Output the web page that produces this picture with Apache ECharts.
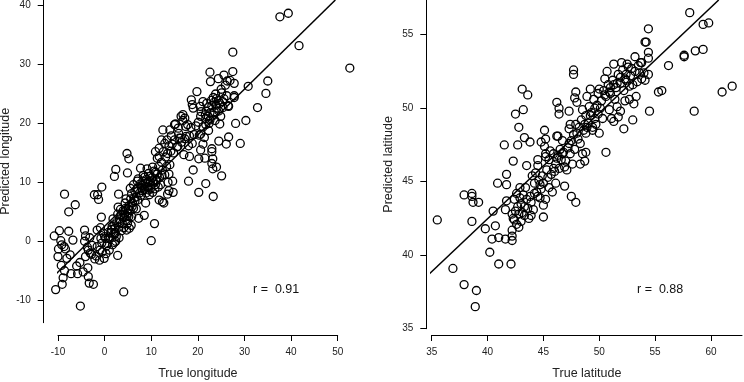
<!DOCTYPE html>
<html>
<head>
<meta charset="utf-8">
<script src="https://cdn.jsdelivr.net/npm/echarts@6/dist/echarts.min.js"></script>
<style>
  html, body { margin: 0; padding: 0; background: #fff; }
  #main { width: 744px; height: 382px; }
</style>
</head>
<body>
<div id="main"></div>
<script>
// true vs predicted longitude, [true, predicted]
const lonPoints = [
  [37.6,38.1],[39.4,38.7],[41.7,33.2],[52.6,29.4],[27.5,32.1],[30.8,26.3],[35.0,27.2],[34.6,25.1],
  [32.8,22.7],[30.3,20.5],[29.1,16.6],[28.1,20.0],[26.6,17.7],[26.1,16.5],[25.1,11.1],[24.0,12.6],
  [23.2,12.3],[24.5,17.0],[23.3,7.6],[21.7,9.8],[20.2,8.3],[18.0,10.2],[19.0,12.1],[10.0,0.1],
  [10.7,3.0],[4.1,-8.6],[-5.2,-11.0],[-10.5,-8.2],[-9.1,-7.3],[-8.9,-6.2],[-8.6,8.0],[-7.7,5.0],
  [-6.3,6.2],[-10.8,0.9],[-9.7,1.8],[-7.7,1.7],[-6.8,0.2],[-10.0,-2.6],[-9.3,-4.1],[-8.6,-5.0],
  [-7.4,-2.3],[-7.2,-5.5],[-8.1,-2.9],[-9.9,-1.3],[-9.4,0.1],[-9.2,-0.6],[-8.7,-0.9],[-8.4,-1.3],
  [-6.0,-4.2],[-5.8,-5.5],[-3.6,-4.5],[-3.5,-6.0],[-3.3,-7.1],[-2.4,-7.3],[-4.6,-5.2],[-5.3,-3.6],
  [-4.1,-2.6],[-3.1,-2.0],[-2.1,-3.0],[-1.1,-3.2],[-0.1,-2.9],[0.3,-2.1],[-1.0,-1.5],[-1.6,-0.9],
  [-2.7,-0.7],[-3.7,-1.0],[-4.3,0.0],[-4.1,0.9],[-4.3,1.9],[-3.2,0.6],[-1.6,1.9],[-0.9,2.3],
  [-0.7,4.1],[-0.6,9.2],[-2.2,7.9],[-1.5,7.9],[-1.3,7.1],[-0.8,0.5],[-0.3,1.4],[0.2,0.5],
  [0.6,-0.4],[-0.6,-0.3],[0.9,0.7],[1.4,1.5],[1.6,2.5],[2.2,1.3],[2.8,-2.4],[2.4,0.0],
  [2.1,11.0],[2.4,12.2],[3.0,8.0],[4.8,14.9],[5.2,14.0],[4.9,11.6],[5.5,9.0],[7.0,10.2],
  [7.7,12.4],[8.5,4.4],[8.8,6.5],[4.7,1.9],[5.7,2.7],[5.2,4.2],[7.3,3.9],
  [19.8,25.4],[18.6,24.0],[18.8,23.2],[19.0,22.6],[21.1,23.7],[20.5,22.9],[20.7,22.0],[20.6,21.2],
  [22.6,28.7],[22.7,27.1],[24.4,27.6],[25.6,28.2],[27.5,28.8],[26.3,27.2],[26.9,27.3],[27.8,26.8],
  [25.9,26.5],[25.0,25.8],[25.1,25.2],[26.2,24.7],[27.8,24.7],[27.8,24.4],[26.5,23.0],[26.6,22.9],
  [25.3,23.7],[23.3,24.4],[24.0,24.2],[23.5,23.6],[24.4,23.9],[24.7,23.4],[23.9,23.1],[23.0,23.0],
  [22.3,22.8],[21.8,22.1],[22.6,21.8],[23.5,22.0],[24.5,22.1],[23.4,21.4],[22.2,21.2],[21.6,21.5],
  [21.7,20.8],[22.6,20.6],[23.7,20.5],[24.7,19.9],[21.7,19.8],[21.1,19.4],[22.3,18.8],[20.6,18.2],
  [20.3,18.0],[21.4,17.6],[21.1,16.5],[20.6,15.5],[20.2,14.0],[23.0,15.7],[23.0,15.2],[23.2,14.0],
  [21.5,14.1],[23.0,13.2],[19.2,18.1],[17.5,17.8],[18.8,16.6],[18.0,16.2],[17.0,14.7],[18.2,14.4],
  [16.8,21.5],[16.4,21.2],[17.2,20.9],[17.4,19.5],[15.2,19.9],[15.0,19.8],[14.0,18.9],[12.5,18.9],
  [14.3,17.9],[16.3,17.5],[15.7,16.1],[12.6,15.2],[13.5,14.9],[11.7,14.4],[12.2,13.4],[13.3,12.7],
  [14.0,13.0],[12.4,12.1],[12.9,11.3],[13.8,11.4],[14.6,10.2],[13.6,10.0],[11.7,7.0],[12.4,6.7],
  [12.7,6.5],[13.5,8.0],[14.7,8.3],[13.8,8.6],[10.9,11.7],[10.3,12.6],[11.2,10.4],[11.3,14.1],
  [10.9,15.2],[11.7,15.8],[12.2,17.2],[12.9,16.6],[13.4,17.2],[11.6,12.7],
  [6.5,8.5],[7.0,9.0],[7.5,8.2],[8.0,9.5],[8.2,10.2],[8.5,8.8],[8.8,9.8],[9.0,10.5],
  [9.2,9.2],[9.5,8.7],[9.8,10.1],[10.0,9.5],[10.2,10.8],[10.5,9.9],[10.8,8.9],[11.0,10.3],
  [7.2,10.6],[7.8,7.8],[6.8,7.5],[8.3,11.2],[9.4,11.5],[10.6,11.9],[11.5,9.2],[9.6,7.9],
  [8.9,8.2],[7.6,9.7],[10.3,8.3],[11.8,10.8],[6.2,9.6],[5.8,8.1],[12.0,9.6],[9.1,12.3],[8.6,10.9],
  [1.5,2.0],[2.0,2.8],[2.3,1.5],[2.6,3.2],[3.0,2.4],[3.2,3.8],[3.5,4.5],[3.8,3.0],
  [4.0,5.2],[4.2,4.0],[4.5,5.6],[4.7,3.5],[5.0,4.8],[5.2,6.0],[5.5,5.2],[5.8,4.2],
  [6.0,6.5],[6.2,5.6],[6.5,6.8],[3.4,5.4],[2.8,4.6],[4.4,6.5],[5.6,7.2],[1.8,3.8],
  [2.5,0.8],[3.6,1.8],[4.9,3.0],[6.8,5.5],[1.2,0.5],[0.8,1.5],[2.1,-0.2],[3.1,0.6],
  [4.1,2.3],[5.3,2.2],[2.9,5.8],[4.6,7.2],
  [-1.8,-2.5],[-0.5,-1.8],[0.4,-0.8],[1.0,-1.5],[-2.8,-2.2],[-3.5,-1.5],[1.7,-0.6],[0.0,0.8],
  [14.5,16.5],[15.0,17.2],[15.5,16.0],[16.0,17.5],[14.2,15.3],[13.8,16.2],[16.5,16.8],[17.2,17.4],
  [18.2,17.9],[18.5,19.3],[17.8,19.8],[16.8,20.5],[15.8,19.2],[14.8,15.0],
  [3.3,3.2],[4.3,4.6],[5.1,5.5],[3.9,4.1],[4.8,4.3],[5.9,5.9],[6.4,7.4],[7.1,7.0],
  [2.2,2.2],[1.9,1.2],[6.9,8.8],[7.9,9.0],[8.7,9.3],[9.3,10.0],[9.9,9.0],[10.4,10.3],
  [8.1,8.6],[9.7,11.0],[10.9,9.6],[11.3,11.4],[21.9,23.4],[22.9,23.9],[24.1,22.6],[25.6,24.2],
  [22.4,20.0],[24.9,21.2],[23.8,25.0],[25.4,22.7],[20.1,20.2],[19.6,19.6],[15.9,18.3],[13.1,14.3],
  [12.3,11.2]
];

// true vs predicted latitude
const latPoints = [
  [35.5,42.4],[36.9,39.1],[37.9,38.0],[38.9,36.5],[39.0,37.6],[37.9,44.1],[38.6,44.2],[38.6,44.0],
  [38.7,43.6],[38.6,42.3],[39.2,43.6],[39.8,41.8],[40.2,40.2],[40.5,43.0],[40.7,42.0],[40.4,41.1],
  [41.0,41.2],[41.0,39.4],[40.9,44.9],[41.6,41.1],[41.5,47.5],[41.7,44.8],[41.7,45.5],[41.7,43.7],
  [41.6,43.1],[42.1,39.4],[42.2,41.0],[42.2,41.3],[42.2,41.7],[42.3,46.4],[42.5,49.6],[42.7,47.5],
  [42.8,48.7],[42.8,41.9],[43.1,51.3],[43.2,49.9],[43.3,48.0],[43.6,50.9],[43.8,47.7],[43.5,46.1],
  [44.5,46.5],[44.5,46.1],[45.0,42.6],[45.1,48.5],[45.2,47.9],[44.8,47.7],[45.1,47.4],[45.2,46.9],
  [46.2,50.4],[46.4,50.0],[46.4,49.6],[46.2,48.1],[46.3,48.1],[46.9,44.7],[47.5,44.0],[47.9,43.6],
  [47.7,52.6],[47.7,52.3],[47.9,51.1],[47.8,50.7],[48.0,50.4],[47.3,49.8],[47.3,48.6],[47.4,48.9],
  [48.8,48.3],[48.8,47.0],[48.5,46.9],[48.7,46.4],[48.3,46.2],[50.6,47.0],[50.0,48.3],[49.4,48.7],
  [51.3,49.1],[51.7,49.4],[51.9,49.8],[52.2,48.6],[53.0,49.2],[54.5,49.8],[54.4,52.3],[54.4,53.4],
  [54.4,53.8],[54.4,55.4],[54.1,54.5],[54.2,54.5],[55.3,51.1],[55.6,51.2],[56.2,52.9],[57.6,53.6],
  [57.6,53.5],[58.1,56.5],[58.5,49.8],[58.6,53.9],[59.3,54.0],[59.3,55.7],[59.8,55.8],[61.0,51.1],
  [61.9,51.5],[53.2,53.5],[53.7,53.1],
  [42.3,42.5],[42.5,43.0],[42.7,43.3],[42.4,43.8],[42.8,42.8],[43.0,43.5],[43.2,44.1],[43.3,42.7],
  [43.5,43.8],[43.6,43.2],[43.8,44.0],[43.0,42.3],[43.9,42.7],[44.1,43.1],[42.6,44.2],[43.4,44.6],
  [44.2,44.9],[44.4,44.3],[44.6,45.1],[44.8,44.5],[44.9,45.4],[44.3,45.6],[45.0,44.9],[45.2,43.8],
  [45.0,43.4],[44.7,43.9],[42.9,43.9],[43.1,42.9],[43.7,42.5],[44.5,44.0],[42.2,42.8],[42.4,42.4],
  [45.3,45.8],[45.5,46.5],[45.7,45.5],[45.9,46.9],[46.1,46.2],[46.3,46.8],[46.5,47.2],[46.6,46.5],
  [46.8,47.0],[47.0,46.4],[47.2,47.3],[47.4,46.9],[46.0,45.7],[46.4,45.9],[45.6,47.1],[45.2,46.7],
  [46.7,47.8],[47.5,47.8],[47.7,48.2],[47.1,45.8],[47.6,46.2],[45.8,44.3],[46.9,46.0],
  [48.2,48.7],[48.4,49.2],[48.6,48.5],[48.8,49.5],[49.0,49.0],[49.1,50.1],[49.3,49.7],[49.5,50.6],
  [49.6,49.3],[49.8,50.2],[48.9,50.8],[49.2,51.3],[48.5,49.9],[49.4,48.5],[49.7,48.9],[48.1,47.9],
  [47.9,48.9],[48.3,47.6],[49.9,51.0],
  [50.2,50.5],[50.4,51.2],[50.6,50.8],[50.8,51.6],[51.0,51.0],[51.2,51.9],[51.4,50.6],[51.5,51.4],
  [51.7,52.3],[51.9,51.7],[52.1,52.6],[52.2,51.2],[52.4,51.9],[52.6,52.8],[52.8,52.2],[53.0,51.6],
  [53.2,52.5],[53.4,51.8],[53.6,52.4],[53.8,53.1],[51.3,53.0],[50.7,52.5],[52.5,53.0],[53.3,50.8],
  [53.1,50.3],[52.7,50.6],[50.0,51.3],[50.3,49.3],[50.9,49.9],[51.6,50.1],[52.3,50.5],[54.0,52.4],
  [54.1,51.9],[51.1,49.3],[52.0,53.1],[50.5,52.0],
  [42.6,42.1],[43.3,43.3],[43.9,43.6],[44.2,44.2],[42.9,44.6],[44.7,44.8],[45.4,45.3],[45.9,45.9],
  [46.2,46.6],[46.7,46.9],[47.3,47.6],[47.8,47.2],[48.0,48.3],[48.7,48.9],[49.2,49.5],[49.6,50.0],
  [50.1,50.0],[50.5,50.9],[51.0,51.4],[51.6,51.7],[51.9,52.1],[52.4,52.3],[52.9,52.7],[53.5,52.9],
  [52.3,52.0],[50.9,51.1],[51.3,51.6],[49.9,49.6],[48.9,48.7],[52.7,51.5],[53.8,52.0],[46.1,44.9],
  [44.0,45.4],[45.5,44.6]
];

const lonXTicks = [-10, 0, 10, 20, 30, 40, 50];
const lonYTicks = [-10, 0, 10, 20, 30, 40];
const latXTicks = [35, 40, 45, 50, 55, 60];
const latYTicks = [35, 40, 45, 50, 55];

// fitted lines: [intercept, slope]
const lonFit = [2.54, 0.776];
const latFit = [13.72, 0.719];
const lonR = '0.91';
const latR = '0.88';

// visible data range of each panel (plot region)
const lonRange = { x: [-13.07, 50], y: [-13.82, 40.95] };
const latRange = { x: [34.52, 62.78], y: [35, 57.36] };

function fitLine(fit, range) {
  const [a, b] = fit;
  let x0 = range.x[0], x1 = range.x[1];
  // cut the line where it leaves the top / bottom of the plot
  const xTop = (range.y[1] - a) / b;
  const xBot = (range.y[0] - a) / b;
  x0 = Math.max(x0, xBot);
  x1 = Math.min(x1, xTop);
  return [[x0, a + b * x0], [x1, a + b * x1]];
}

const font = 'Liberation Sans, Arial, Helvetica, sans-serif';
const axisLineStyle = { onZero: false, lineStyle: { color: '#000', width: 1 } };
const tickStyle = { length: 6, lineStyle: { color: '#000', width: 1 } };
const labelStyle = { color: '#222', fontSize: 10, fontFamily: font };
const nameStyle = { color: '#222', fontSize: 12.5, fontFamily: font };

function xAx(grid, min, max, ticks, name, offset) {
  return {
    type: 'value', gridIndex: grid, min, max, offset,
    name, nameLocation: 'middle', nameGap: 32, nameTextStyle: nameStyle,
    axisLine: axisLineStyle,
    axisTick: { ...tickStyle, customValues: ticks },
    axisLabel: { ...labelStyle, margin: 12, customValues: ticks },
    splitLine: { show: false }
  };
}
function yAx(grid, min, max, ticks, name, offset, gap) {
  return {
    type: 'value', gridIndex: grid, min, max, offset,
    name, nameLocation: 'middle', nameGap: gap, nameRotate: 90, nameTextStyle: nameStyle,
    axisLine: axisLineStyle,
    axisTick: { ...tickStyle, customValues: ticks },
    axisLabel: { ...labelStyle, margin: 13, customValues: ticks },
    splitLine: { show: false }
  };
}

const pointStyle = {
  type: 'scatter', symbol: 'circle', symbolSize: 8, clip: false, silent: true,
  itemStyle: { color: 'rgba(0,0,0,0)', borderColor: '#000', borderWidth: 1.3, opacity: 1 }
};
const lineStyle = {
  type: 'line', symbol: 'none', clip: false, silent: true,
  lineStyle: { color: '#000', width: 1.5 }
};

const myChart = echarts.init(document.getElementById('main'));
const option = {
  animation: false,
  backgroundColor: '#fff',
  grid: [
    { left: 58, width: 279.7, top: 0, height: 322.7, outerBoundsMode: 'none' },
    { left: 431.7, right: 2, top: 0, height: 328.7, outerBoundsMode: 'none' }
  ],
  xAxis: [
    xAx(0, -10, 50, lonXTicks, 'True longitude', 12.3),
    xAx(1, 35, 62.78, latXTicks, 'True latitude', 6.3)
  ],
  yAxis: [
    yAx(0, lonRange.y[0], lonRange.y[1], lonYTicks, 'Predicted longitude', 14.3, 25),
    yAx(1, latRange.y[0], latRange.y[1], latYTicks, 'Predicted latitude', 5.4, 31)
  ],
  series: [
    { ...pointStyle, xAxisIndex: 0, yAxisIndex: 0, data: lonPoints },
    { ...lineStyle, xAxisIndex: 0, yAxisIndex: 0, data: fitLine(lonFit, lonRange) },
    { ...pointStyle, xAxisIndex: 1, yAxisIndex: 1, data: latPoints },
    { ...lineStyle, xAxisIndex: 1, yAxisIndex: 1, data: fitLine(latFit, latRange) }
  ],
  graphic: [
    { type: 'text', left: 253, top: 283,
      style: { text: 'r =  ' + lonR, font: '12.5px ' + font, fill: '#111' } },
    { type: 'text', left: 637, top: 283,
      style: { text: 'r =  ' + latR, font: '12.5px ' + font, fill: '#111' } }
  ]
};
myChart.setOption(option);
window.addEventListener('resize', () => {
  myChart.resize();
});
</script>
</body>
</html>
